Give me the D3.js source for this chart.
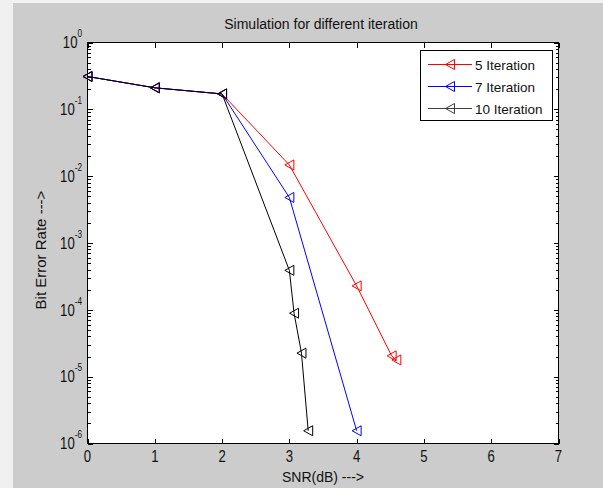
<!DOCTYPE html>
<html><head><meta charset="utf-8">
<script src="https://cdn.jsdelivr.net/npm/d3@7"></script>
<style>
html,body{margin:0;padding:0;background:#cccccc;}
svg{display:block;}
text{font-family:"Liberation Sans",Arial,Helvetica,sans-serif;fill:#111;}
</style></head>
<body>
<svg id="c" width="603" height="488"></svg>
<script>
// ---- data ----
const title = "Simulation for different iteration";
const xLabel = "SNR(dB) --->";
const yLabel = "Bit Error Rate --->";
const xTicks = [0,1,2,3,4,5,6,7];
const yTickExps = [0,-1,-2,-3,-4,-5,-6];
const seriesNames = ["5 Iteration","7 Iteration","10 Iteration"];
const seriesColors = ["#ff0000","#0000ff","#000000"];
const legendColors = ["#ff0000","#0000ff","#404040"];
const snr5  = [0,1,2,3,4,4.52,4.59];
const ber5  = [0.31,0.21,0.17,0.0147,2.28e-4,2.05e-5,1.78e-5];
const snr7  = [0,1,2,3,4];
const ber7  = [0.31,0.21,0.17,4.8e-3,1.55e-6];
const snr10 = [0,1,2,3,3.07,3.18,3.28];
const ber10 = [0.31,0.21,0.17,3.9e-4,8.9e-5,2.25e-5,1.55e-6];

const series = [
  {x:snr5, y:ber5},
  {x:snr7, y:ber7},
  {x:snr10, y:ber10}
];

const svg = d3.select("#c");
const L=87.5, R=558.5, T=42.5, B=443.5;
const x = d3.scaleLinear().domain([0,7]).range([L,R]);
const y = d3.scaleLog().domain([1e-6,1]).range([B,T]);

// background bits
svg.append("rect").attr("x",0).attr("y",0).attr("width",603).attr("height",488).attr("fill","#cccccc");
svg.append("rect").attr("x",0).attr("y",0).attr("width",603).attr("height",3).attr("fill","#f2f2f2");
svg.append("rect").attr("x",0).attr("y",0).attr("width",13).attr("height",488).attr("fill","#f0f0f0");

// plot area
svg.append("rect").attr("x",L).attr("y",T).attr("width",R-L).attr("height",B-T).attr("fill","#fff");

const clip = svg.append("defs").append("clipPath").attr("id","pc");
clip.append("rect").attr("x",L-8).attr("y",T-8).attr("width",R-L+16).attr("height",B-T+16);

// ticks
const tk = svg.append("g").attr("stroke","#000").attr("stroke-width",1).attr("shape-rendering","crispEdges");
xTicks.forEach(v=>{
  const px = Math.round(x(v))+0.5;
  tk.append("line").attr("x1",px).attr("x2",px).attr("y1",B).attr("y2",B-5);
  tk.append("line").attr("x1",px).attr("x2",px).attr("y1",T).attr("y2",T+5);
});
yTickExps.forEach(e=>{
  const py = Math.round(y(Math.pow(10,e)))+0.5;
  tk.append("line").attr("x1",L).attr("x2",L+5).attr("y1",py).attr("y2",py);
  tk.append("line").attr("x1",R).attr("x2",R-5).attr("y1",py).attr("y2",py);
  if(e<0){
    for(let m=2;m<=9;m++){
      const pm = Math.round(y(m*Math.pow(10,e)))+0.5;
      tk.append("line").attr("x1",L).attr("x2",L+3).attr("y1",pm).attr("y2",pm);
      tk.append("line").attr("x1",R).attr("x2",R-3).attr("y1",pm).attr("y2",pm);
    }
  }
});
// frame
svg.append("rect").attr("x",L).attr("y",T).attr("width",R-L).attr("height",B-T)
  .attr("fill","none").attr("stroke","#000").attr("stroke-width",1).attr("shape-rendering","crispEdges");

// tick labels
const SX = 0.82;
xTicks.forEach(v=>{
  svg.append("text").attr("transform",`translate(${x(v)},461.5) scale(${SX},1)`)
    .attr("text-anchor","middle").attr("font-size",16).attr("fill","#333").text(v);
});
yTickExps.forEach(e=>{
  const py = y(Math.pow(10,e));
  const t = svg.append("text").attr("transform",`translate(82,${py+5.7}) scale(${SX},1)`)
    .attr("text-anchor","end").attr("font-size",16).attr("fill","#333");
  t.append("tspan").text("10");
  t.append("tspan").attr("font-size",10).attr("dy",-11).text(e===0?"0":"-"+(-e));
});

// titles
svg.append("text").attr("x",(L+R)/2-2).attr("y",29).attr("text-anchor","middle").attr("font-size",14).text(title);
svg.append("text").attr("x",(L+R)/2).attr("y",482).attr("text-anchor","middle").attr("font-size",14).text(xLabel);
svg.append("text").attr("transform",`translate(46,250) rotate(-90)`).attr("text-anchor","middle").attr("font-size",15).text(yLabel);

// marker path: left-pointing triangle
function tri(cx,cy){
  const w=4.5,h=5;
  return `M${cx-w},${cy} L${cx+w},${cy-h} L${cx+w},${cy+h} Z`;
}

const plot = svg.append("g").attr("clip-path","url(#pc)");
series.forEach((s,i)=>{
  const pts = s.x.map((v,k)=>[x(v), y(s.y[k])]);
  plot.append("path").attr("d", d3.line()(pts)).attr("fill","none")
    .attr("stroke",seriesColors[i]).attr("stroke-width",1);
  pts.forEach(p=>{
    plot.append("path").attr("d",tri(p[0],p[1])).attr("fill","none")
      .attr("stroke",seriesColors[i]).attr("stroke-width",1);
  });
});

// legend
const lg = svg.append("g");
lg.append("rect").attr("x",420.5).attr("y",50.5).attr("width",132).attr("height",70)
  .attr("fill","#fff").attr("stroke","#000").attr("stroke-width",1).attr("shape-rendering","crispEdges");
const rows=[64.5,86.5,108.5];
seriesNames.forEach((n,i)=>{
  lg.append("line").attr("x1",428).attr("x2",472).attr("y1",rows[i]).attr("y2",rows[i])
    .attr("stroke",legendColors[i]).attr("stroke-width",1);
  lg.append("path").attr("d",tri(450,rows[i])).attr("fill","none").attr("stroke",legendColors[i]).attr("stroke-width",1);
  lg.append("text").attr("x",475).attr("y",rows[i]+5).attr("font-size",13.5).text(n);
});
</script>
</body></html>
